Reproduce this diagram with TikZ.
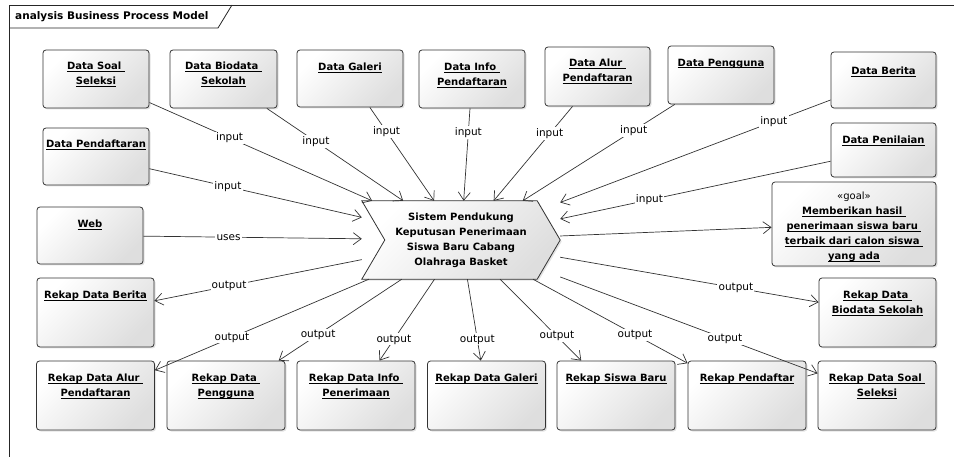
\documentclass[tikz,border=0pt]{standalone}
\usepackage{fontspec}
\setmainfont{DejaVu Sans}
\usetikzlibrary{arrows.meta,shadows,backgrounds}

\newcommand{\undl}[1]{\setbox0\hbox{#1}\rlap{\rule[-2.2pt]{\wd0}{0.8pt}}\box0}

\tikzset{
  shadebox/.style={draw=black!80, line width=0.8pt, top color=white, bottom color=black!13, shading angle=45,
    drop shadow={shadow xshift=1.5pt, shadow yshift=-1.5pt, opacity=0.22}},
  elem/.style={shadebox, rounded corners=3pt},
  etext/.style={anchor=north, align=center, inner sep=0pt, font=\fontsize{10}{15}\selectfont\bfseries},
  sysbox/.style={minimum width=198pt, minimum height=78pt, align=center, inner sep=0pt, font=\fontsize{10}{15}\selectfont\bfseries},
  flow/.style={draw=black!80, line width=0.7pt, -{Straight Barb[length=8pt, width=12pt]}},
  lbl/.style={fill=white, inner sep=1.2pt, font=\fontsize{10.5}{12}\selectfont},
  frame/.style={draw=black!85, line width=0.8pt},
}

\begin{document}
\begin{tikzpicture}[x=1pt, y=-1pt]
    \useasboundingbox (0,0) rectangle (954,457);
    \clip (0,0) rectangle (954,457);

    % Cornice del diagramma
    \draw[frame] (9,470) -- (9,5) -- (970,5);
    \draw[frame] (9,28) -- (218,28) -- (232,5);
    \node[anchor=west, inner sep=0pt, font=\fontsize{10.5}{12}\selectfont\bfseries] (title) at (15,16.5) {analysis Business Process Model};

    % Processo centrale
    \node[sysbox] (sys) at (461,240) {Sistem Pendukung\\Keputusan Penerimaan\\Siswa Baru Cabang\\Olahraga Basket};
    \begin{pgfonlayer}{background}
        \draw[shadebox] (sys.north west) -- ([xshift=-23pt]sys.north east) -- (sys.east) -- ([xshift=-23pt]sys.south east) -- (sys.south west) -- ([xshift=23pt]sys.west) -- cycle;
    \end{pgfonlayer}

    % Dati in ingresso
    \node[elem, minimum width=106pt, minimum height=58pt] (dss) at (96,79) {};
    \node[elem, minimum width=107pt, minimum height=58pt] (dbs) at (223.5,79) {};
    \node[elem, minimum width=106pt, minimum height=57pt] (dga) at (350,78.5) {};
    \node[elem, minimum width=106pt, minimum height=58pt] (dip) at (472,79) {};
    \node[elem, minimum width=105pt, minimum height=59pt] (dap) at (597.5,76.5) {};
    \node[elem, minimum width=106pt, minimum height=58pt] (dpg) at (721,75) {};
    \node[elem, minimum width=105pt, minimum height=56pt] (dbe) at (883.5,80) {};
    \node[elem, minimum width=105pt, minimum height=54pt] (dpn) at (883.5,150) {};
    \node[elem, minimum width=106pt, minimum height=57pt] (dpd) at (96,156.5) {};
    \node[elem, minimum width=106pt, minimum height=57pt] (web) at (90,235.5) {};

    \node[etext] (dss-t) at ([yshift=-12pt]dss.north) {\undl{Data Soal\ }\\\undl{Seleksi}};
    \node[etext] (dbs-t) at ([yshift=-12pt]dbs.north) {\undl{Data Biodata\ }\\\undl{Sekolah}};
    \node[etext] (dga-t) at ([yshift=-13pt]dga.north) {\undl{Data Galeri}};
    \node[etext] (dip-t) at ([yshift=-13pt]dip.north) {\undl{Data Info\ }\\\undl{Pendaftaran}};
    \node[etext] (dap-t) at ([yshift=-12pt]dap.north) {\undl{Data Alur\ }\\\undl{Pendaftaran}};
    \node[etext] (dpg-t) at ([yshift=-13pt]dpg.north) {\undl{Data Pengguna}};
    \node[etext] (dbe-t) at ([yshift=-15pt]dbe.north) {\undl{Data Berita}};
    \node[etext] (dpn-t) at ([yshift=-13pt]dpn.north) {\undl{Data Penilaian}};
    \node[etext] (dpd-t) at ([yshift=-12pt]dpd.north) {\undl{Data Pendaftaran}};
    \node[etext] (web-t) at ([yshift=-13pt]web.north) {\undl{Web}};

    % Obiettivo
    \node[elem, minimum width=164pt, minimum height=84pt] (goal) at (854,224) {};
    \node[etext] (goal-t) at ([yshift=-10pt]goal.north) {{\mdseries «goal»}\\\undl{Memberikan hasil\ }\\\undl{penerimaan siswa baru\ }\\\undl{terbaik dari calon siswa\ }\\\undl{yang ada}};

    % Rekap in uscita
    \node[elem, minimum width=117pt, minimum height=69pt] (rdb) at (95.5,312.5) {};
    \node[elem, minimum width=117pt, minimum height=69pt] (rbs) at (877.5,312.5) {};
    \node[elem, minimum width=118pt, minimum height=69pt] (rda) at (95.5,395.5) {};
    \node[elem, minimum width=118pt, minimum height=69pt] (rdp) at (226,395.5) {};
    \node[elem, minimum width=118pt, minimum height=69pt] (rdi) at (356,395.5) {};
    \node[elem, minimum width=118pt, minimum height=69pt] (rdg) at (486.5,395.5) {};
    \node[elem, minimum width=118pt, minimum height=69pt] (rsb) at (616,395.5) {};
    \node[elem, minimum width=118pt, minimum height=69pt] (rpd) at (747,395.5) {};
    \node[elem, minimum width=118pt, minimum height=69pt] (rss) at (877,395.5) {};

    \node[etext] (rdb-t) at ([yshift=-13pt]rdb.north) {\undl{Rekap Data Berita}};
    \node[etext] (rbs-t) at ([yshift=-13pt]rbs.north) {\undl{Rekap Data\ }\\\undl{Biodata Sekolah}};
    \node[etext] (rda-t) at ([yshift=-13pt]rda.north) {\undl{Rekap Data Alur\ }\\\undl{Pendaftaran}};
    \node[etext] (rdp-t) at ([yshift=-13pt]rdp.north) {\undl{Rekap Data\ }\\\undl{Pengguna}};
    \node[etext] (rdi-t) at ([yshift=-13pt]rdi.north) {\undl{Rekap Data Info\ }\\\undl{Penerimaan}};
    \node[etext] (rdg-t) at ([yshift=-13pt]rdg.north) {\undl{Rekap Data Galeri}};
    \node[etext] (rsb-t) at ([yshift=-13pt]rsb.north) {\undl{Rekap Siswa Baru}};
    \node[etext] (rpd-t) at ([yshift=-13pt]rpd.north) {\undl{Rekap Pendaftar}};
    \node[etext] (rss-t) at ([yshift=-13pt]rss.north) {\undl{Rekap Data Soal\ }\\\undl{Seleksi}};

    % Frecce input
    \draw[flow] (dss) -- node[lbl, pos=0.36] (in-dss) {input} (sys);
    \draw[flow] (dbs) -- node[lbl, pos=0.36] (in-dbs) {input} (sys);
    \draw[flow] (dga) -- node[lbl, pos=0.26] (in-dga) {input} (sys);
    \draw[flow] (dip) -- node[lbl, pos=0.26] (in-dip) {input} (sys);
    \draw[flow] (dap) -- node[lbl, pos=0.29] (in-dap) {input} (sys);
    \draw[flow] (dpg) -- node[lbl, pos=0.27] (in-dpg) {input} (sys);
    \draw[flow] (dbe) -- node[lbl, pos=0.21] (in-dbe) {input} (sys);
    \draw[flow] (dpn) -- node[lbl, pos=0.67] (in-dpn) {input} (sys);
    \draw[flow] (dpd) -- node[lbl, pos=0.37] (in-dpd) {input} (sys);
    \draw[flow] (web) -- node[lbl, pos=0.39] (us-web) {uses} (sys);

    % Frecce output
    \draw[flow] (sys) -- (goal);
    \draw[flow] (sys) -- node[lbl, pos=0.64] (out-rdb) {output} (rdb);
    \draw[flow] (sys) -- node[lbl, pos=0.68] (out-rbs) {output} (rbs);
    \draw[flow] (sys) -- node[lbl, pos=0.64] (out-rda) {output} (rda);
    \draw[flow] (sys) -- node[lbl, pos=0.68] (out-rdp) {output} (rdp);
    \draw[flow] (sys) -- node[lbl, pos=0.74] (out-rdi) {output} (rdi);
    \draw[flow] (sys) -- node[lbl, pos=0.74] (out-rdg) {output} (rdg);
    \draw[flow] (sys) -- node[lbl, pos=0.70] (out-rsb) {output} (rsb);
    \draw[flow] (sys) -- node[lbl, pos=0.66] (out-rpd) {output} (rpd);
    \draw[flow] (sys) -- node[lbl, pos=0.64] (out-rss) {output} (rss);
\end{tikzpicture}
\end{document}
